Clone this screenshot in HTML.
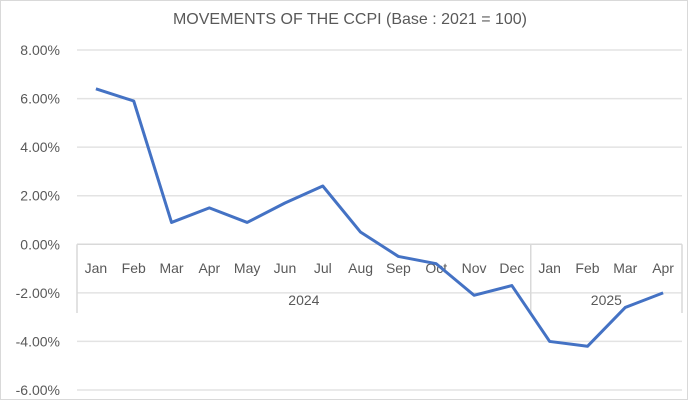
<!DOCTYPE html>
<html><head><meta charset="utf-8"><style>
body{margin:0;background:#fff;}
svg{display:block;font-family:"Liberation Sans",sans-serif;}
</style></head><body>
<svg id="chart" width="700" height="400" viewBox="0 0 700 400">
<rect x="0.5" y="0.5" width="687" height="399" fill="#fff" stroke="#d9d9d9"/>
<text x="350" y="24" text-anchor="middle" font-size="16" fill="#595959">MOVEMENTS OF THE CCPI (Base : 2021 = 100)</text>
<g id="grid"></g><g id="axes"></g><g id="series"></g>
</svg>
<script>
const months=["Jan","Feb","Mar","Apr","May","Jun","Jul","Aug","Sep","Oct","Nov","Dec","Jan","Feb","Mar","Apr"];
const years=["2024","2025"];
const yearCounts=[12,4];
const values=[6.4,5.9,0.9,1.5,0.9,1.7,2.4,0.5,-0.5,-0.8,-2.1,-1.7,-4.0,-4.2,-2.6,-2.0];
const yTicks=[8,6,4,2,0,-2,-4,-6];
const NS="http://www.w3.org/2000/svg";
const L=77,R=682,yTop=50,yBot=390,yMax=8,yMin=-6;
const bw=(R-L)/months.length;
function x(i){return L+bw*(i+0.5);}
function y(v){return yTop+(yMax-v)/(yMax-yMin)*(yBot-yTop);}
function mk(t,a,p){const e=document.createElementNS(NS,t);for(const k in a)e.setAttribute(k,a[k]);p.appendChild(e);return e;}
const grid=document.getElementById('grid'),axes=document.getElementById('axes'),series=document.getElementById('series');
yTicks.forEach(v=>{
 const l=mk('line',{x1:L,x2:R,y1:y(v),y2:y(v),stroke:v===0?'#d9d9d9':'#e3e3e3','stroke-width':1.5},grid);
 
 
 const t=mk('text',{x:60,y:y(v)+5,'text-anchor':'end','font-size':14,fill:'#595959'},axes);
 t.textContent=v.toFixed(2)+'%';
 
 
});
const y0=y(0),axBot=313;
let v1=mk('line',{x1:L,x2:L,y1:y0,y2:axBot,stroke:'#d9d9d9','stroke-width':1.5},axes);


let idx=0;
yearCounts.forEach((c,k)=>{
 const end=L+bw*(idx+c);
 const ln=mk('line',{x1:end,x2:end,y1:y0,y2:axBot,stroke:'#d9d9d9','stroke-width':1.5},axes);
 
 
 const t=mk('text',{x:(L+bw*idx+end)/2,y:305,'text-anchor':'middle','font-size':14,fill:'#595959'},axes);
 t.textContent=years[k];
 
 
 idx+=c;
});
months.forEach((m,i)=>{
 const t=mk('text',{x:x(i),y:273,'text-anchor':'middle','font-size':14,fill:'#595959'},axes);
 t.textContent=m;
 
 
});
const p=mk('polyline',{points:values.map((v,i)=>x(i)+','+y(v)).join(' '),fill:'none',stroke:'#4472c4','stroke-width':3,'stroke-linejoin':'round'},series);


</script>
</body></html>
